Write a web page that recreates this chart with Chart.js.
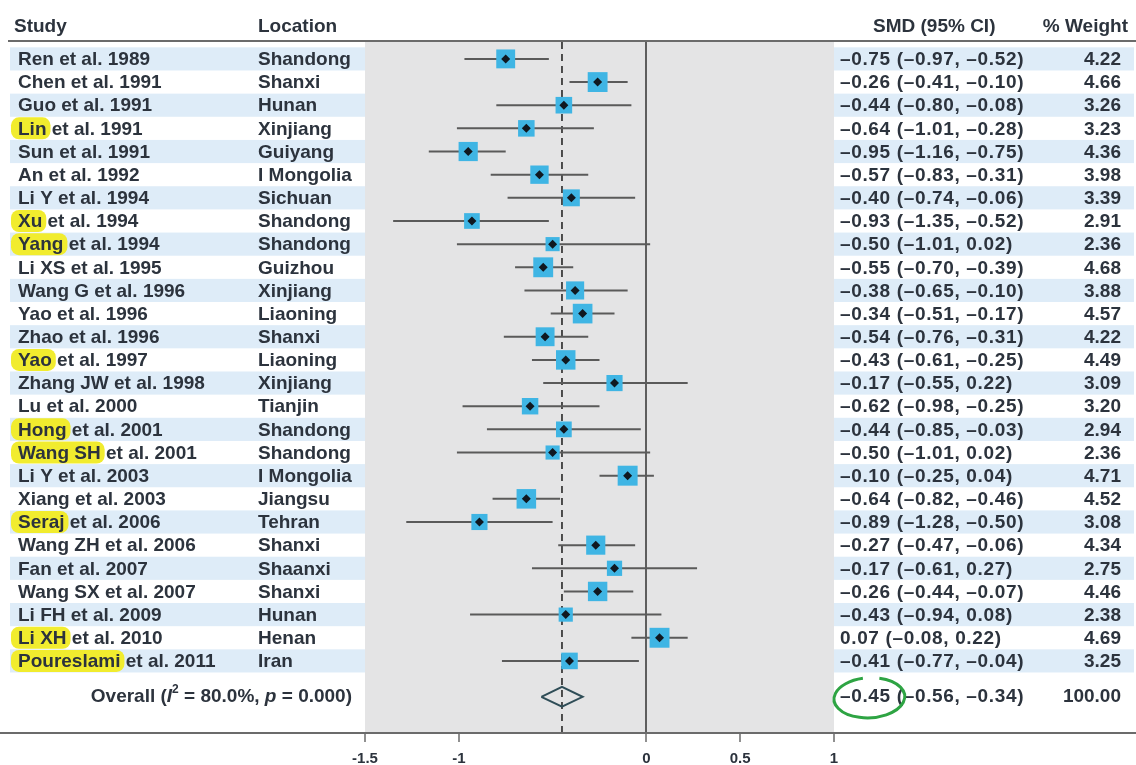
<!DOCTYPE html>
<html>
<head>
<meta charset="utf-8">
<script src="https://cdn.jsdelivr.net/npm/chart.js@4.4.1/dist/chart.umd.min.js"></script>
<style>
  html, body { margin: 0; padding: 0; background: #fff; }
  #wrap { width: 1136px; height: 765px; }
</style>
</head>
<body>
<div id="wrap"><canvas id="forest" width="1136" height="765"></canvas></div>
<script>
const studies = [
  'Ren et al. 1989', 'Chen et al. 1991', 'Guo et al. 1991', 'Lin et al. 1991', 'Sun et al. 1991',
  'An et al. 1992', 'Li Y et al. 1994', 'Xu et al. 1994', 'Yang et al. 1994', 'Li XS et al. 1995',
  'Wang G et al. 1996', 'Yao et al. 1996', 'Zhao et al. 1996', 'Yao et al. 1997', 'Zhang JW et al. 1998',
  'Lu et al. 2000', 'Hong et al. 2001', 'Wang SH et al. 2001', 'Li Y et al. 2003', 'Xiang et al. 2003',
  'Seraj et al. 2006', 'Wang ZH et al. 2006', 'Fan et al. 2007', 'Wang SX et al. 2007', 'Li FH et al. 2009',
  'Li XH et al. 2010', 'Poureslami et al. 2011'
];
const locations = [
  'Shandong', 'Shanxi', 'Hunan', 'Xinjiang', 'Guiyang', 'I Mongolia', 'Sichuan', 'Shandong', 'Shandong',
  'Guizhou', 'Xinjiang', 'Liaoning', 'Shanxi', 'Liaoning', 'Xinjiang', 'Tianjin', 'Shandong', 'Shandong',
  'I Mongolia', 'Jiangsu', 'Tehran', 'Shanxi', 'Shaanxi', 'Shanxi', 'Hunan', 'Henan', 'Iran'
];
const smd = [
  -0.75, -0.26, -0.44, -0.64, -0.95, -0.57, -0.40, -0.93, -0.50, -0.55, -0.38, -0.34, -0.54, -0.43,
  -0.17, -0.62, -0.44, -0.50, -0.10, -0.64, -0.89, -0.27, -0.17, -0.26, -0.43, 0.07, -0.41
];
const ciLow = [
  -0.97, -0.41, -0.80, -1.01, -1.16, -0.83, -0.74, -1.35, -1.01, -0.70, -0.65, -0.51, -0.76, -0.61,
  -0.55, -0.98, -0.85, -1.01, -0.25, -0.82, -1.28, -0.47, -0.61, -0.44, -0.94, -0.08, -0.77
];
const ciHigh = [
  -0.52, -0.10, -0.08, -0.28, -0.75, -0.31, -0.06, -0.52, 0.02, -0.39, -0.10, -0.17, -0.31, -0.25,
  0.22, -0.25, -0.03, 0.02, 0.04, -0.46, -0.50, -0.06, 0.27, -0.07, 0.08, 0.22, -0.04
];
const weights = [
  4.22, 4.66, 3.26, 3.23, 4.36, 3.98, 3.39, 2.91, 2.36, 4.68, 3.88, 4.57, 4.22, 4.49,
  3.09, 3.20, 2.94, 2.36, 4.71, 4.52, 3.08, 4.34, 2.75, 4.46, 2.38, 4.69, 3.25
];
// surname part marked with a yellow highlighter in the source ('' = none)
const highlighted = [
  '', '', '', 'Lin', '', '', '', 'Xu', 'Yang', '', '', '', '', 'Yao', '', '', 'Hong', 'Wang SH', '', '',
  'Seraj', '', '', '', '', 'Li XH', 'Poureslami'
];
const overallSmd = -0.45;
const overallLow = -0.56;
const overallHigh = -0.34;
const overallWeight = 100.00;
const overallI2 = '80.0%';
const overallP = '0.000';
const xTicks = [-1.5, -1, 0, 0.5, 1];

const Y_MIN = 0.27, Y_MAX = 30.07, OVERALL_ROW = 28.55;
const FONT = '"Liberation Sans", Arial, sans-serif';
const BODY = 'bold 19px ' + FONT;
const TXT = '#2c333d';

const fmt = v => (v < 0 ? '\u2013' : '') + Math.abs(v).toFixed(2);
const rows = studies.map((s, i) => i + 1);

const ciData = [];
rows.forEach((r, i) => {
  ciData.push({ x: ciLow[i], y: r }, { x: ciHigh[i], y: r }, { x: NaN, y: NaN });
});

const forestBackground = {
  id: 'forestBackground',
  beforeDraw(chart) {
    const { ctx, chartArea: a, scales: { y } } = chart;
    const half = Math.abs(y.getPixelForValue(1.5) - y.getPixelForValue(1));
    ctx.save();
    ctx.fillStyle = '#fff';
    ctx.fillRect(0, 0, chart.width, chart.height);
    // row stripes
    ctx.fillStyle = '#deecf8';
    rows.forEach((r, i) => {
      if (i % 2) return;
      const py = y.getPixelForValue(r);
      ctx.fillRect(10, py - half, a.left - 10, half * 2);
      ctx.fillRect(a.right, py - half, 1134 - a.right, half * 2);
    });
    ctx.fillStyle = '#e4e4e5';
    ctx.fillRect(a.left, a.top, a.right - a.left, a.bottom - a.top);

    ctx.textBaseline = 'middle';
    ctx.font = BODY;
    // highlighter marks
    ctx.fillStyle = '#f1ec2e';
    rows.forEach((r, i) => {
      if (!highlighted[i]) return;
      const py = y.getPixelForValue(r);
      const w = ctx.measureText(highlighted[i]).width;
      ctx.beginPath();
      ctx.roundRect(11, py - 11, w + 11, 22, 8);
      ctx.fill();
    });

    // header
    ctx.fillStyle = TXT;
    ctx.textAlign = 'left';
    ctx.fillText('Study', 14, 27);
    ctx.fillText('Location', 258, 27);
    ctx.fillText('SMD (95% CI)', 873, 27);
    ctx.textAlign = 'right';
    ctx.fillText('% Weight', 1128, 27);

    // table rows
    rows.forEach((r, i) => {
      const py = y.getPixelForValue(r) + 1;
      ctx.textAlign = 'left';
      ctx.fillText(studies[i], 18, py);
      ctx.fillText(locations[i], 258, py);
      ctx.letterSpacing = '0.65px';
      ctx.fillText(`${fmt(smd[i])} (${fmt(ciLow[i])}, ${fmt(ciHigh[i])})`, 840, py);
      ctx.letterSpacing = '0px';
      ctx.textAlign = 'right';
      ctx.fillText(weights[i].toFixed(2), 1121, py);
    });

    // overall row
    const oy = y.getPixelForValue(OVERALL_ROW);
    const pieces = [
      ['Overall (', 'bold 19px ', 0], ['I', 'italic bold 19px ', 0], ['2', 'bold 12px ', -7],
      [' = ' + overallI2 + ', ', 'bold 19px ', 0], ['p', 'italic bold 19px ', 0],
      [' = ' + overallP + ')', 'bold 19px ', 0]
    ];
    let total = 0;
    pieces.forEach(p => { ctx.font = p[1] + FONT; total += ctx.measureText(p[0]).width; });
    let px = 352 - total;
    ctx.textAlign = 'left';
    pieces.forEach(p => {
      ctx.font = p[1] + FONT;
      ctx.fillText(p[0], px, oy + p[2]);
      px += ctx.measureText(p[0]).width;
    });
    ctx.font = BODY;
    ctx.letterSpacing = '0.65px';
    ctx.fillText(`${fmt(overallSmd)} (${fmt(overallLow)}, ${fmt(overallHigh)})`, 840, oy);
    ctx.letterSpacing = '0px';
    ctx.textAlign = 'right';
    ctx.fillText(overallWeight.toFixed(2), 1121, oy);
    ctx.restore();
  },
  afterDraw(chart) {
    const { ctx, chartArea: a, scales: { y } } = chart;
    ctx.save();
    ctx.strokeStyle = '#6b6b6b';
    ctx.lineWidth = 2;
    ctx.beginPath();
    ctx.moveTo(8, a.top - 1); ctx.lineTo(1136, a.top - 1);
    ctx.moveTo(0, a.bottom + 1); ctx.lineTo(1136, a.bottom + 1);
    ctx.stroke();

    // green hand-drawn loop around the pooled estimate
    const oy = y.getPixelForValue(OVERALL_ROW);
    ctx.font = BODY;
    ctx.letterSpacing = '0.65px';
    const w = ctx.measureText(fmt(overallSmd)).width;
    ctx.letterSpacing = '0px';
    const cx = 840 + w / 2 + 4;
    ctx.strokeStyle = '#2ea443';
    ctx.lineWidth = 3;
    ctx.beginPath();
    ctx.ellipse(cx, oy + 1, w / 2 + 10, 20, -0.05, Math.PI * 1.6, Math.PI * 3.45);
    ctx.stroke();
    ctx.restore();
  }
};

new Chart(document.getElementById('forest'), {
  type: 'scatter',
  data: {
    datasets: [
      {
        label: 'Overall line',
        data: [{ x: overallSmd, y: Y_MIN }, { x: overallSmd, y: Y_MAX }],
        showLine: true, borderColor: '#3d3d3d', borderWidth: 1.8, borderDash: [7, 5],
        pointRadius: 0, order: 4
      },
      {
        label: '95% CI',
        data: ciData,
        showLine: true, spanGaps: false, borderColor: '#5a5a5a', borderWidth: 2,
        pointRadius: 0, order: 3
      },
      {
        label: 'Weight',
        data: rows.map((r, i) => ({ x: smd[i], y: r })),
        pointStyle: 'rect', backgroundColor: '#3fb5e4', borderWidth: 0,
        pointRadius: ctx => Math.sqrt(weights[ctx.dataIndex]) * 6.5, order: 2
      },
      {
        label: 'SMD',
        data: rows.map((r, i) => ({ x: smd[i], y: r })),
        pointStyle: 'rectRot', backgroundColor: '#101820', borderWidth: 0,
        pointRadius: 4.5, order: 1
      },
      {
        label: 'Overall',
        data: [
          { x: overallLow, y: OVERALL_ROW }, { x: overallSmd, y: OVERALL_ROW - 0.43 },
          { x: overallHigh, y: OVERALL_ROW }, { x: overallSmd, y: OVERALL_ROW + 0.43 },
          { x: overallLow, y: OVERALL_ROW }
        ],
        showLine: true, borderColor: '#2f4d57', borderWidth: 2, fill: false,
        pointRadius: 0, order: 0
      }
    ]
  },
  options: {
    responsive: false,
    animation: false,
    devicePixelRatio: 1,
    layout: { padding: { left: 365, right: 302, top: 42, bottom: 0 } },
    plugins: { legend: { display: false }, tooltip: { enabled: false } },
    scales: {
      x: {
        type: 'linear', min: -1.5, max: 1,
        afterBuildTicks: s => { s.ticks = xTicks.map(v => ({ value: v })); },
        afterFit: s => { s.height = 33; },
        border: { display: false },
        grid: {
          color: c => (c.tick && c.tick.value === 0 ? '#5e5e5e' : 'rgba(0,0,0,0)'),
          lineWidth: 2, tickLength: 10, tickColor: '#6b6b6b', tickWidth: 1.5
        },
        ticks: {
          autoSkip: false, maxRotation: 0, padding: 8, color: '#2c333d',
          font: { family: FONT, size: 15, weight: 'bold' },
          callback: v => String(v)
        }
      },
      y: { type: 'linear', min: Y_MIN, max: Y_MAX, reverse: true, display: false }
    }
  },
  plugins: [forestBackground]
});
</script>
</body>
</html>
